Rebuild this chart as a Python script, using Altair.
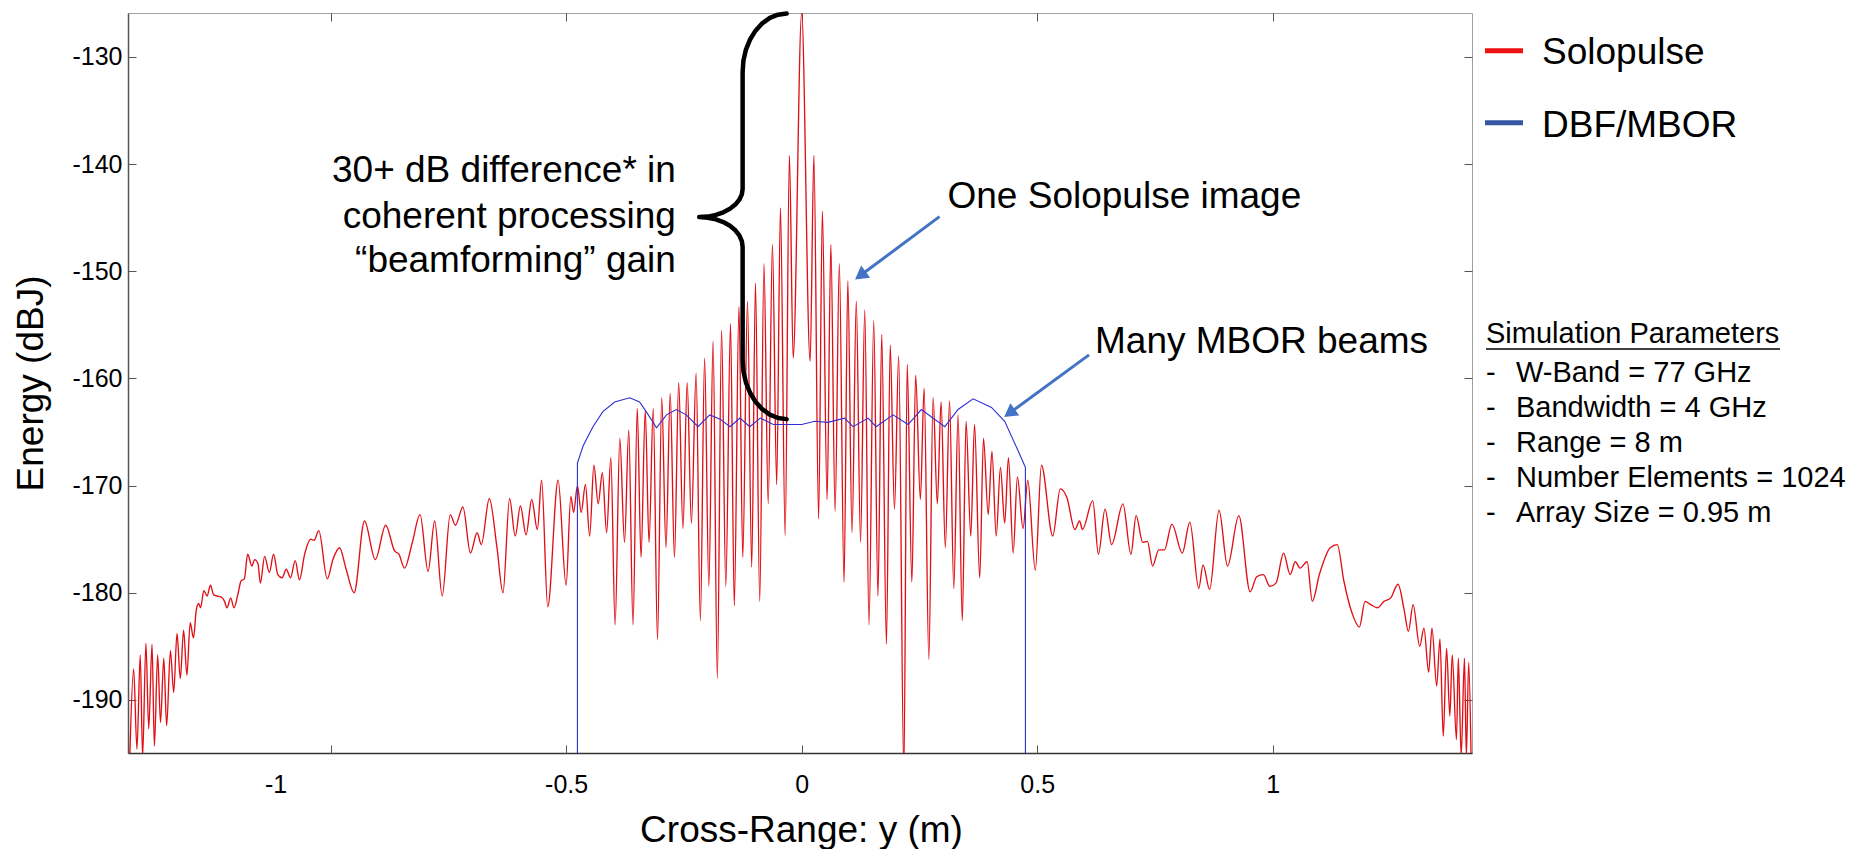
import altair as alt
import pandas as pd

FONT = "Liberation Sans"

# ---------------- data ----------------
# Solopulse (red): cross-range (m) and energy (dBJ)
solo_x = [
    -1.426, -1.418, -1.411, -1.404, -1.399, -1.392, -1.386, -1.379, -1.374, -1.367,
    -1.361, -1.354, -1.348, -1.340, -1.333, -1.326, -1.319, -1.312, -1.305, -1.298,
    -1.291, -1.285, -1.280, -1.276, -1.269, -1.262, -1.255, -1.248, -1.241, -1.232,
    -1.225, -1.220, -1.212, -1.205, -1.197, -1.190, -1.183, -1.176, -1.167, -1.161,
    -1.154, -1.149, -1.140, -1.130, -1.121, -1.112, -1.103, -1.094, -1.085, -1.075,
    -1.066, -1.055, -1.042, -1.035, -1.025, -1.007, -0.995, -0.981, -0.967,
    -0.950, -0.928, -0.905, -0.883, -0.864, -0.855, -0.843, -0.827, -0.810, -0.793,
    -0.779, -0.763, -0.746, -0.735, -0.719, -0.703, -0.689, -0.680, -0.663, -0.647,
    -0.634, -0.620, -0.608, -0.597, -0.585, -0.573, -0.561, -0.552, -0.539, -0.517,
    -0.500, -0.490, -0.484, -0.476, -0.468,
    -0.459, -0.450, -0.441, -0.432, -0.423, -0.414, -0.405, -0.396, -0.386, -0.376,
    -0.367, -0.358, -0.349, -0.341, -0.332, -0.324, -0.315, -0.306, -0.297, -0.288,
    -0.279, -0.270, -0.261, -0.252, -0.243, -0.234, -0.224, -0.215, -0.206, -0.197,
    -0.188, -0.179, -0.170, -0.161, -0.151, -0.143, -0.133, -0.125, -0.115, -0.106,
    -0.098, -0.089, -0.080, -0.071, -0.062, -0.053, -0.045, -0.035, -0.026, -0.018,
    0.000,
    0.018, 0.026, 0.036, 0.044, 0.054, 0.062, 0.071, 0.080, 0.090, 0.098,
    0.107, 0.116, 0.125, 0.134, 0.143, 0.153, 0.162, 0.170, 0.180, 0.188,
    0.197, 0.206, 0.217, 0.224, 0.234, 0.242, 0.252, 0.260, 0.270, 0.279,
    0.288, 0.296, 0.305, 0.314, 0.323, 0.332, 0.341, 0.349, 0.359, 0.367,
    0.378, 0.386, 0.396, 0.404, 0.413, 0.422, 0.431, 0.439, 0.449, 0.458,
    0.470, 0.480, 0.496, 0.509,
    0.533, 0.549, 0.563, 0.580, 0.590, 0.596, 0.618, 0.630, 0.644, 0.658,
    0.682, 0.699, 0.710, 0.724, 0.734, 0.745, 0.758, 0.770, 0.786, 0.808,
    0.824, 0.843, 0.852, 0.866, 0.886, 0.904, 0.928, 0.952, 0.966, 0.980,
    0.994, 1.007, 1.023, 1.037, 1.048, 1.058, 1.073, 1.084, 1.099, 1.122,
    1.137, 1.151, 1.170, 1.184, 1.196, 1.208, 1.222, 1.236, 1.250, 1.266,
    1.279, 1.288, 1.298, 1.312, 1.321, 1.331, 1.338, 1.348, 1.355, 1.362,
    1.369, 1.376, 1.381, 1.390, 1.394, 1.400, 1.407, 1.411, 1.416, 1.421,
]
solo_db = [
    -195.0, -187.1, -194.6, -185.8, -195.3, -184.7, -192.7, -184.8, -194.3, -185.8,
    -192.1, -186.1, -192.4, -185.4, -189.3, -183.8, -188.0, -183.5, -187.7, -182.8,
    -184.2, -181.6, -181.0, -181.4, -179.8, -180.3, -179.3, -180.2, -180.3, -180.4,
    -180.8, -181.4, -180.5, -181.4, -180.2, -178.9, -178.7, -176.4, -177.5, -176.9,
    -177.3, -179.1, -176.6, -178.1, -176.4, -178.3, -178.6, -177.8, -178.6, -177.0,
    -178.8, -176.4, -175.0, -175.1, -174.2, -178.7, -176.9, -175.8, -177.8,
    -180.0, -173.3, -176.9, -173.7, -176.1, -176.4, -177.7, -175.4, -172.7, -178.0,
    -173.3, -180.3, -172.7, -173.7, -172.0, -176.3, -174.4, -175.5, -171.2, -175.7,
    -180.0, -171.2, -174.7, -171.9, -174.6, -171.3, -174.1, -169.5, -181.3, -169.5,
    -179.3, -171.0, -172.5, -170.0, -172.5,
    -169.9, -174.7, -168.1, -171.7, -168.8, -174.4, -167.4, -183.0, -165.6, -175.3,
    -164.8, -183.0, -162.8, -176.7, -163.0, -175.3, -162.8, -184.4, -161.8, -175.8,
    -161.4, -176.7, -160.4, -174.0, -160.4, -173.5, -159.5, -182.6, -158.1, -179.4,
    -156.5, -188.0, -155.5, -179.4, -154.9, -181.2, -153.3, -176.7, -152.8, -177.6,
    -151.1, -180.8, -149.3, -171.7, -147.5, -169.9, -144.1, -174.7, -139.2, -158.1,
    -125.9,
    -158.4, -139.2, -173.1, -144.4, -171.3, -147.5, -172.4, -149.3, -179.0, -150.9,
    -174.4, -152.8, -175.3, -153.6, -183.0, -154.6, -180.3, -155.9, -184.8, -156.9,
    -172.2, -157.9, -197.0, -158.7, -179.0, -159.7, -171.3, -160.9, -186.2, -161.8,
    -171.7, -162.2, -175.8, -162.1, -179.6, -163.4, -182.6, -164.0, -174.7, -164.3,
    -178.6, -165.6, -172.7, -166.8, -174.7, -168.3, -173.5, -167.4, -176.3, -169.2,
    -174.0, -169.5, -177.9, -168.1,
    -174.7, -170.3, -171.1, -174.1, -173.3, -174.1, -171.4, -176.4, -172.2, -175.5,
    -171.7, -176.4, -172.8, -175.3, -175.2, -177.5, -176.0, -176.0, -173.6, -176.3,
    -173.4, -179.6, -177.4, -179.7, -172.3, -177.5, -172.8, -179.9, -178.5, -178.3,
    -179.4, -179.1, -176.3, -178.3, -177.1, -177.7, -177.1, -180.8, -178.3, -175.8,
    -175.5, -178.9, -182.1, -183.2, -180.8, -181.1, -181.4, -180.8, -180.5, -179.2,
    -181.6, -183.6, -181.1, -185.0, -183.3, -187.4, -183.3, -188.7, -184.3, -193.4,
    -185.2, -191.5, -185.8, -193.7, -186.1, -195.2, -186.1, -195.2, -186.5, -195.2,
]

# DBF/MBOR (blue)
mbor_x = [
    -0.476, -0.476, -0.464, -0.443, -0.422, -0.397, -0.365, -0.344, -0.330, -0.308,
    -0.287, -0.266, -0.245, -0.220, -0.195, -0.173, -0.152, -0.131, -0.110, -0.088,
    -0.060, -0.032, 0.000, 0.028, 0.056, 0.091, 0.109, 0.141, 0.158, 0.194,
    0.226, 0.254, 0.304, 0.332, 0.364, 0.403, 0.431, 0.459, 0.473, 0.475, 0.475,
]
mbor_db = [
    -200.0, -167.9, -166.3, -164.5, -163.1, -162.2, -161.8, -162.2, -163.1, -164.6,
    -163.4, -162.9, -163.4, -164.5, -163.4, -163.8, -164.5, -163.7, -164.5, -163.7,
    -164.3, -164.3, -164.3, -164.0, -164.1, -163.7, -164.5, -163.7, -164.5, -163.4,
    -164.3, -162.9, -164.5, -162.9, -161.9, -162.7, -164.0, -166.7, -168.1, -168.3, -200.0,
]

x_tick_values = [-1, -0.5, 0, 0.5, 1]
y_tick_values = [-190, -180, -170, -160, -150, -140, -130]
x_domain = [-1.430, 1.423]
y_domain = [-194.95, -125.9]

legend_names = ["Solopulse", "DBF/MBOR"]
param_title = "Simulation Parameters"
param_lines = ["W-Band = 77 GHz", "Bandwidth = 4 GHz", "Range = 8 m",
               "Number Elements = 1024", "Array Size = 0.95 m"]

gain_lines = ["30+ dB difference* in", "coherent processing", "\u201cbeamforming\u201d gain"]
gain_line_x = [-0.267, -0.267, -0.267]
gain_line_y = [-141.63, -145.92, -150.03]

callout_text = ["One Solopulse image", "Many MBOR beams"]
callout_x = [0.3096, 0.6227]
callout_y = [-144.05, -157.61]

# curly brace (data units)
brace_x = [-0.03185, -0.05011, -0.06752, -0.08365, -0.09788, -0.10955, -0.11826, -0.12357, -0.12527,
           -0.12527, -0.12696, -0.13227, -0.14076, -0.15223, -0.16624, -0.18217, -0.19936, -0.21741,
           -0.19936, -0.18217, -0.16624, -0.15223, -0.14076, -0.13227, -0.12696, -0.12527,
           -0.12527, -0.12357, -0.11826, -0.10955, -0.09788, -0.08365, -0.06752, -0.05011, -0.03185]
brace_y = [-125.951, -126.054, -126.362, -126.866, -127.547, -128.377, -129.310, -130.336, -131.399,
           -142.313, -142.826, -143.321, -143.778, -144.170, -144.496, -144.748, -144.897, -144.944,
           -145.000, -145.159, -145.410, -145.756, -146.175, -146.660, -147.183, -147.724,
           -158.265, -159.347, -160.382, -161.334, -162.174, -162.864, -163.377, -163.694, -163.797]

# arrows: start -> head (data units)
arrow_id = ["solo", "solo", "mbor", "mbor"]
arrow_x = [0.2926, 0.1246, 0.6100, 0.4412]
arrow_y = [-144.90, -150.40, -157.80, -163.24]
head_x = [0.1246, 0.4412]
head_y = [-150.40, -163.24]

# ---------------- frames ----------------
solo_df = pd.DataFrame({"x": solo_x, "db": solo_db, "i": range(len(solo_x))})
mbor_df = pd.DataFrame({"x": mbor_x, "db": mbor_db, "i": range(len(mbor_x))})
brace_df = pd.DataFrame({"x": brace_x, "db": brace_y, "i": range(len(brace_x))})
arrow_df = pd.DataFrame({"id": arrow_id, "x": arrow_x, "db": arrow_y, "i": range(len(arrow_x))})
head_df = pd.DataFrame({"x": head_x, "db": head_y})
gain_df = pd.DataFrame({"t": gain_lines, "x": gain_line_x, "db": gain_line_y})
call_df = pd.DataFrame({"t": callout_text, "x": callout_x, "db": callout_y})

xs = alt.Scale(domain=x_domain, nice=False, zero=False)
ys = alt.Scale(domain=y_domain, nice=False, zero=False)

main_x_axis = alt.Axis(
    values=x_tick_values, ticks=False, tickSize=0, grid=False,
    domainColor="#333333", domainWidth=1.5,
    labelFont=FONT, labelFontSize=25, labelColor="black",
    labelPadding=39, labelBaseline="alphabetic", labelFlush=False, labelOverlap=False,
    labelExpr="'' + datum.value",
    labelOffset={"condition": {"test": "datum.value === -1", "value": -55}, "value": 0},
    title="Cross-Range: y (m)", titleFont=FONT, titleFontSize=37, titleFontWeight="normal",
    titleColor="black", titleX=673, titleY=88, titleAlign="center", titleBaseline="alphabetic",
)
main_y_axis = alt.Axis(
    values=y_tick_values, ticks=False, tickSize=0, grid=False,
    domainColor="#555555", domainWidth=1.5,
    labelFont=FONT, labelFontSize=25, labelColor="black", labelPadding=6,
    labelExpr="'' + datum.value",
    title="Energy (dBJ)", titleFont=FONT, titleFontSize=37, titleFontWeight="normal",
    titleColor="black", titleAngle=270, titleX=-86, titleY=370,
    titleAlign="center", titleBaseline="alphabetic",
)


def tick_axis(values, orient):
    return alt.Axis(values=values, orient=orient, offset=-8, domain=False, labels=False,
                    ticks=True, tickSize=8, tickColor="#555555", tickWidth=1,
                    grid=False, title=None)


red = alt.Chart(solo_df).mark_line(
    color="#e00f16", strokeWidth=1.35, clip=True, interpolate="monotone"
).encode(
    x=alt.X("x:Q", scale=xs, axis=main_x_axis),
    y=alt.Y("db:Q", scale=ys, axis=main_y_axis),
    order=alt.Order("i:Q"),
)

blue = alt.Chart(mbor_df).mark_line(
    color="#2f2fd0", strokeWidth=1.1, clip=True
).encode(
    x=alt.X("x:Q", scale=xs, axis=tick_axis(x_tick_values, "bottom")),
    y=alt.Y("db:Q", scale=ys, axis=tick_axis(y_tick_values, "left")),
    order=alt.Order("i:Q"),
)

brace = alt.Chart(brace_df).mark_line(
    color="black", strokeWidth=4.5, strokeCap="round", strokeJoin="round"
).encode(
    x=alt.X("x:Q", scale=xs, axis=tick_axis(x_tick_values, "top")),
    y=alt.Y("db:Q", scale=ys, axis=tick_axis(y_tick_values, "right")),
    order=alt.Order("i:Q"),
)

arrows = alt.Chart(arrow_df).mark_line(color="#4472c4", strokeWidth=3).encode(
    x=alt.X("x:Q", scale=xs, axis=None),
    y=alt.Y("db:Q", scale=ys, axis=None),
    detail="id:N",
    order=alt.Order("i:Q"),
)

heads = alt.Chart(head_df).mark_point(
    shape="triangle-up", filled=True, color="#4472c4", opacity=1, size=230, angle=234
).encode(
    x=alt.X("x:Q", scale=xs, axis=None),
    y=alt.Y("db:Q", scale=ys, axis=None),
)

gain_text = alt.Chart(gain_df).mark_text(
    align="right", baseline="alphabetic", font=FONT, fontSize=37, color="black"
).encode(
    x=alt.X("x:Q", scale=xs, axis=None),
    y=alt.Y("db:Q", scale=ys, axis=None),
    text="t:N",
)

call_text = alt.Chart(call_df).mark_text(
    align="left", baseline="alphabetic", font=FONT, fontSize=37, color="black"
).encode(
    x=alt.X("x:Q", scale=xs, axis=None),
    y=alt.Y("db:Q", scale=ys, axis=None),
    text="t:N",
)


def legend_entry(name, color, y_line, y_text):
    d = pd.DataFrame({"name": [name]})
    sw = alt.Chart(d).mark_rule(color=color, strokeWidth=5).encode(
        x=alt.value(1357), x2=alt.value(1395), y=alt.value(y_line))
    lb = alt.Chart(d).mark_text(align="left", baseline="alphabetic", font=FONT,
                                fontSize=37, color="black").encode(
        x=alt.value(1414), y=alt.value(y_text), text="name:N")
    return [sw, lb]


leg = legend_entry(legend_names[0], "#ee1111", 37.7, 51) + \
      legend_entry(legend_names[1], "#3558a6", 109.7, 124.3)

pt_df = pd.DataFrame({"t": [param_title]})
p_title = alt.Chart(pt_df).mark_text(align="left", baseline="alphabetic", font=FONT,
                                     fontSize=29, color="black").encode(
    x=alt.value(1358), y=alt.value(330), text="t:N")
p_line = alt.Chart(pt_df).mark_rule(color="black", strokeWidth=1.5).encode(
    x=alt.value(1358), x2=alt.value(1652), y=alt.value(336))
p_dash = alt.Chart(pt_df).mark_text(align="left", baseline="alphabetic", font=FONT,
                                    fontSize=29, color="black", lineHeight=35).encode(
    x=alt.value(1358), y=alt.value(369), text=alt.value(["-"] * len(param_lines)))
p_items = alt.Chart(pt_df).mark_text(align="left", baseline="alphabetic", font=FONT,
                                     fontSize=29, color="black", lineHeight=35).encode(
    x=alt.value(1388), y=alt.value(369), text=alt.value(param_lines))

chart = alt.layer(
    red, blue, brace, arrows, heads, gain_text, call_text, *leg, p_title, p_line, p_dash, p_items
).resolve_axis(
    x="independent", y="independent"
).properties(
    width=1344, height=740,
    autosize=alt.AutoSizeParams(type="none"),
    padding={"left": 128, "top": 13, "right": 379, "bottom": 96},
).configure(
    font=FONT, background="white"
).configure_view(
    stroke="#a0a0a0", strokeWidth=1
)

chart.save("out.html", embed_options={"renderer": "svg", "actions": False})
